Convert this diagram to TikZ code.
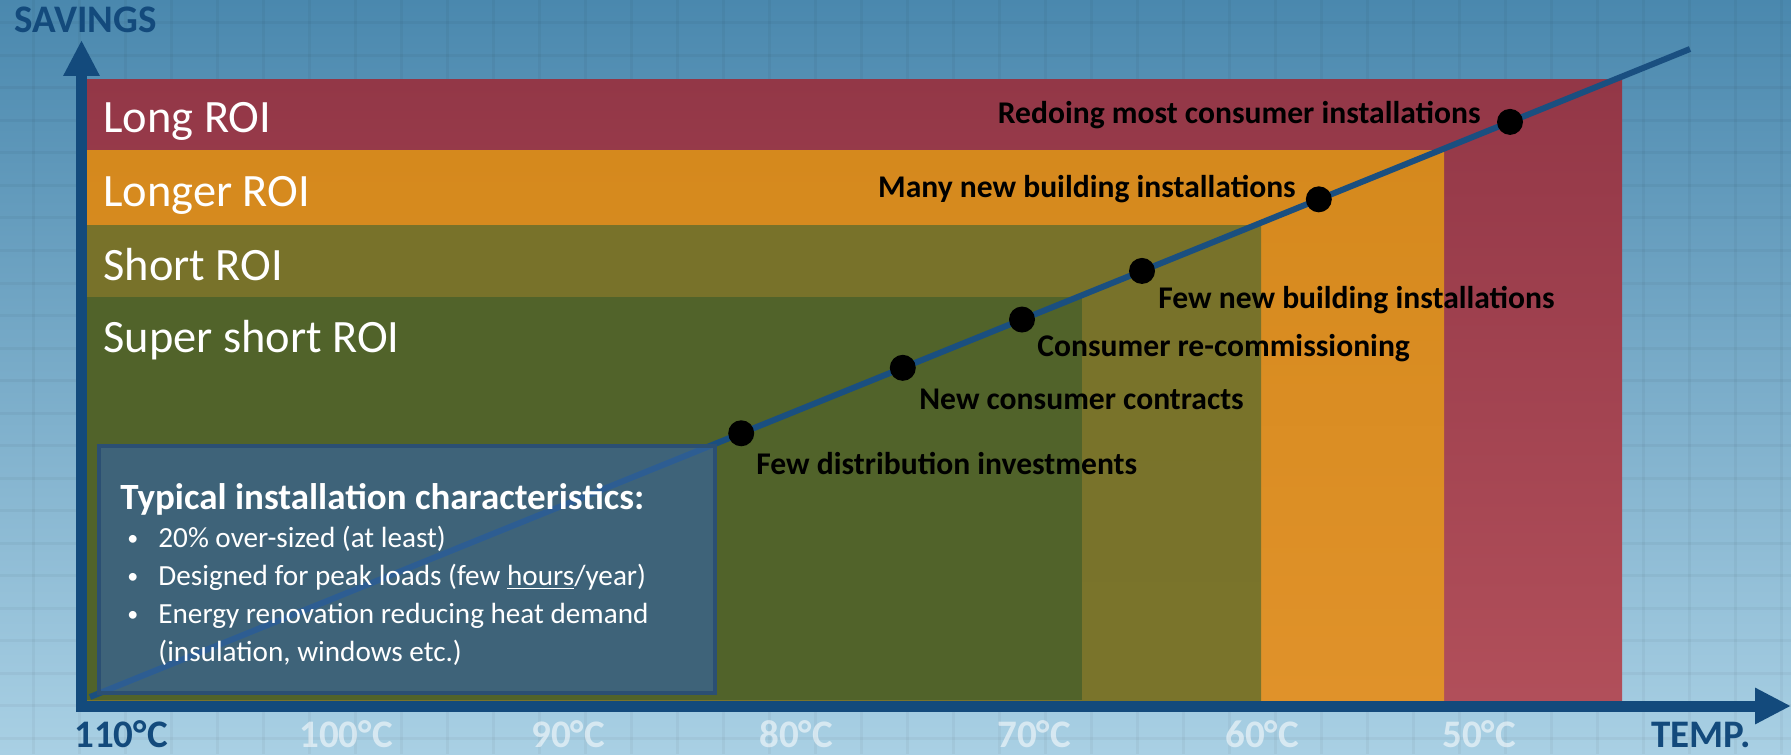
\documentclass[tikz,border=0pt]{standalone}
\usepackage{fontspec}
\setmainfont{Carlito}
\usetikzlibrary{arrows.meta}

\definecolor{bgtop}{HTML}{4A88AE}
\definecolor{bgbot}{HTML}{A9D0E4}
\definecolor{axisblue}{HTML}{134A7C}
\definecolor{trendblue}{HTML}{1A4F80}
\definecolor{redtop}{HTML}{933747}
\definecolor{redbot}{HTML}{B14F5A}
\definecolor{orangetop}{HTML}{D5891D}
\definecolor{orangebot}{HTML}{E0922A}
\definecolor{olivetop}{HTML}{78722A}
\definecolor{olivebot}{HTML}{7A742B}
\definecolor{greenband}{HTML}{51632A}
\definecolor{boxfill}{HTML}{36649B}
\definecolor{boxline}{HTML}{2B4F73}

\tikzset{
  gridline/.style={draw=black, draw opacity=0.035, line width=1.5pt},
  axisline/.style={draw=axisblue, line width=5.5pt, -{Triangle[length=18pt,width=17pt]}},
  trend/.style={draw=trendblue, line width=3pt},
  marker/.style={circle, fill=black, inner sep=0pt, minimum size=13pt},
  bandlabel/.style={text=white, font=\fontsize{23.2}{26}\selectfont, anchor=base west, inner sep=0pt},
  steplabel/.style={text=black, font=\bfseries\fontsize{15.8}{18}\selectfont, inner sep=0pt},
  axislabel/.style={text=axisblue, font=\bfseries\fontsize{19.5}{22}\selectfont, inner sep=0pt, anchor=base},
  ticklabel/.style={text=white, text opacity=0.55, font=\bfseries\fontsize{19.5}{22}\selectfont, inner sep=0pt, anchor=base},
  infobox/.style={fill=boxfill, fill opacity=0.7, draw=boxline, draw opacity=1, line width=2pt},
  boxtitle/.style={text=white, font=\bfseries\fontsize{18.5}{22}\selectfont, inner sep=0pt, anchor=base west},
  boxtext/.style={text=white, font=\fontsize{14.6}{17}\selectfont, inner sep=0pt, anchor=base west},
  boxbullet/.style={text=white, font=\fontsize{11}{13}\selectfont, inner sep=0pt, anchor=base west}
}

\begin{document}
\begin{tikzpicture}[x=0.5pt, y=-0.5pt]
\useasboundingbox (0,0) rectangle (1791,754);

% sky background with a faint grid
\shade[top color=bgtop, bottom color=bgbot] (0,0) rectangle (1791,754);
\foreach \gx in {33,79,...,1791} \draw[gridline] (\gx,0) -- (\gx,754);
\foreach \gy in {23,55.5,...,754} \draw[gridline] (0,\gy) -- (1791,\gy);

% ROI regions, stacked from the longest payback down
\shade[top color=redtop, bottom color=redbot] (87,80) rectangle (1622,700);
\shade[top color=orangetop, bottom color=orangebot] (87,151) rectangle (1444,700);
\shade[top color=olivetop, bottom color=olivebot] (87,225) rectangle (1261,700);
\fill[greenband] (87,297) rectangle (1082,700);

\node[bandlabel] (long)    at (103,133) {Long ROI};
\node[bandlabel] (longer)  at (103,206) {Longer ROI};
\node[bandlabel] (short)   at (103,280) {Short ROI};
\node[bandlabel] (sshort)  at (103,352) {Super short ROI};

% axes
\coordinate (O) at (81.5,706);
\coordinate (ytip) at (81.5,40);
\coordinate (xtip) at (1791,706);
\draw[axisline] (81.5,711) -- (ytip);
\draw[axisline] (76,706) -- (xtip);

% trend line with the measures placed on it
\coordinate (tstart) at (90,697);
\coordinate (tend) at (1690,49);
\draw[trend] (tstart) -- (tend);

% info box (drawn over the line, which shows through)
\path[infobox] (99,446) rectangle (715,693);
\node[boxtitle] (btitle) at (120,509) {Typical installation characteristics:};
\node[boxbullet] (b1) at (127,545) {•};
\node[boxtext] (t1) at (158,547) {20\% over-sized (at least)};
\node[boxbullet] (b2) at (127,583) {•};
\node[boxtext] (t2) at (158,585) {Designed for peak loads (few \underline{hours}/year)};
\node[boxbullet] (b3) at (127,621) {•};
\node[boxtext] (t3) at (158,623) {Energy renovation reducing heat demand};
\node[boxtext] (t4) at (158,661) {(insulation, windows etc.)};

\path (tstart) -- (tend)
  node[marker, pos=0.407] (d1) {}
  node[marker, pos=0.508] (d2) {}
  node[marker, pos=0.5825] (d3) {}
  node[marker, pos=0.6575] (d4) {}
  node[marker, pos=0.768] (d5) {}
  node[marker, pos=0.8875] (d6) {};

\node[steplabel, anchor=base west] (l1) at (756,474) {Few distribution investments};
\node[steplabel, anchor=base west] (l2) at (919,409) {New consumer contracts};
\node[steplabel, anchor=base west] (l3) at (1037,356) {Consumer re-commissioning};
\node[steplabel, anchor=base west] (l4) at (1158,308) {Few new building installations};
\node[steplabel, anchor=base east] (l5) at (1296,198) {Many new building installations};
\node[steplabel, anchor=base east] (l6) at (1481,124) {Redoing most consumer installations};

% axis titles and temperature scale
\node[axislabel, anchor=base west] (savings) at (14,33) {SAVINGS};
\node[axislabel] (t110) at (121,747) {110°C};
\node[ticklabel] (t100) at (346,747) {100°C};
\node[ticklabel] (t90) at (568,747) {90°C};
\node[ticklabel] (t80) at (796,747) {80°C};
\node[ticklabel] (t70) at (1034,747) {70°C};
\node[ticklabel] (t60) at (1262,747) {60°C};
\node[ticklabel] (t50) at (1479,747) {50°C};
\node[axislabel] (temp) at (1701,747) {TEMP.};
\end{tikzpicture}
\end{document}
